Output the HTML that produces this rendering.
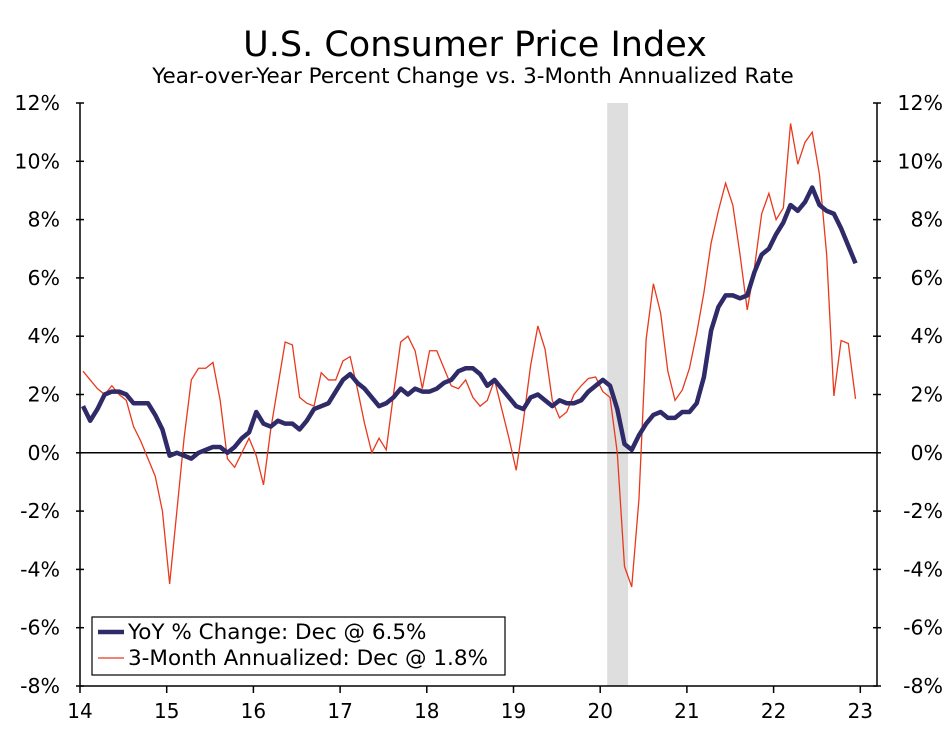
<!DOCTYPE html>
<html><head><meta charset="utf-8"><style>
body{margin:0;background:#fff}
svg text{font-family:"DejaVu Sans","Liberation Sans",sans-serif;fill:#000}
</style></head><body>
<svg id="chart" width="947" height="727" xmlns="http://www.w3.org/2000/svg">
<text x="475" y="56" font-size="35" text-anchor="middle">U.S. Consumer Price Index</text>
<text x="473" y="83" font-size="21.5" text-anchor="middle">Year-over-Year Percent Change vs. 3-Month Annualized Rate</text>
<g id="g"></g>
</svg>
<script>
const yearLabels=["14","15","16","17","18","19","20","21","22","23"];
const yTicks=[12,10,8,6,4,2,0,-2,-4,-6,-8];
const yoy=[1.6,1.1,1.5,2.0,2.1,2.1,2.0,1.7,1.7,1.7,1.3,0.8,
-0.1,0.0,-0.1,-0.2,0.0,0.1,0.2,0.2,0.0,0.2,0.5,0.7,
1.4,1.0,0.9,1.1,1.0,1.0,0.8,1.1,1.5,1.6,1.7,2.1,
2.5,2.7,2.4,2.2,1.9,1.6,1.7,1.9,2.2,2.0,2.2,2.1,
2.1,2.2,2.4,2.5,2.8,2.9,2.9,2.7,2.3,2.5,2.2,1.9,
1.6,1.5,1.9,2.0,1.8,1.6,1.8,1.7,1.7,1.8,2.1,2.3,
2.5,2.3,1.5,0.3,0.1,0.6,1.0,1.3,1.4,1.2,1.2,1.4,
1.4,1.7,2.6,4.2,5.0,5.4,5.4,5.3,5.4,6.2,6.8,7.0,
7.5,7.9,8.5,8.3,8.6,9.1,8.5,8.3,8.2,7.7,7.1,6.5];
const ann3m=[2.8,2.5,2.2,2.0,2.3,2.0,1.8,0.9,0.4,-0.2,-0.8,-2.0,
-4.5,-2.0,0.5,2.5,2.9,2.9,3.1,1.8,-0.2,-0.5,0.0,0.5,
-0.1,-1.1,0.8,2.3,3.8,3.7,1.9,1.7,1.6,2.75,2.5,2.5,
3.15,3.3,2.2,1.0,0.0,0.5,0.1,2.0,3.8,4.0,3.5,2.2,
3.5,3.5,2.9,2.3,2.2,2.5,1.9,1.6,1.8,2.5,1.5,0.5,
-0.6,1.1,3.0,4.35,3.55,1.8,1.2,1.4,2.0,2.3,2.55,2.6,
2.1,1.9,0.0,-3.9,-4.6,-1.6,3.9,5.8,4.8,2.8,1.8,2.15,
2.9,4.1,5.5,7.2,8.3,9.25,8.5,6.8,4.9,6.35,8.2,8.9,
8.0,8.4,11.3,9.9,10.65,11.0,9.55,6.8,1.95,3.85,3.75,1.85];
const recession=[72.6,75.5];
const L=80,R=877,T=103,B=686;
const y=v=>T+(12-v)/20*(B-T);
const xm=i=>83+i*7.22;
const xy=i=>80+i*86.7;
const g=document.getElementById('g');
const NS="http://www.w3.org/2000/svg";
function mk(tag,at,parent){const e=document.createElementNS(NS,tag);for(const k in at)e.setAttribute(k,at[k]);(parent||g).appendChild(e);return e;}
let r=mk('rect',{x:xm(recession[0]),y:T,width:xm(recession[1])-xm(recession[0]),height:B-T,fill:'#dedede'});


let z=mk('line',{x1:L,x2:R,y1:y(0),y2:y(0),stroke:'#000','stroke-width':1.5});


let ax=mk('path',{d:`M${L},${T}V${B}H${R}V${T}`,fill:'none',stroke:'#000','stroke-width':1.5});


yTicks.forEach(v=>{
  let t=mk('line',{x1:L-4,x2:L+4,y1:y(v),y2:y(v),stroke:'#000','stroke-width':1.5});
  
  
  let t2=mk('line',{x1:R-4,x2:R+4,y1:y(v),y2:y(v),stroke:'#000','stroke-width':1.5});
  
  
  let a=mk('text',{x:60,y:y(v)+7,'font-size':20.5,'text-anchor':'end'});a.textContent=v+'%';
  
  
  let b=mk('text',{x:943,y:y(v)+7,'font-size':20.5,'text-anchor':'end'});b.textContent=v+'%';
  
  
});
yearLabels.forEach((l,i)=>{
  let t=mk('line',{x1:xy(i),x2:xy(i),y1:B,y2:B+7,stroke:'#000','stroke-width':1.5});
  
  
  let a=mk('text',{x:xy(i),y:B+32,'font-size':20,'text-anchor':'middle'});a.textContent=l;
  
  
});
let p1=mk('polyline',{points:ann3m.map((v,i)=>xm(i)+','+y(v)).join(' '),fill:'none',stroke:'#e8391d','stroke-width':1.3});


let p2=mk('polyline',{points:yoy.map((v,i)=>xm(i)+','+y(v)).join(' '),fill:'none',stroke:'#2f2a68','stroke-width':4.5,'stroke-linejoin':'round'});


let lg=mk('g',{});


mk('rect',{x:92,y:617,width:413,height:58,fill:'#fff',stroke:'#000','stroke-width':1.2},lg);
let e1=mk('line',{x1:98,x2:124,y1:632,y2:632,stroke:'#2f2a68','stroke-width':4.5},lg);


let t1=mk('text',{x:128,y:639,'font-size':21.5},lg);t1.textContent='YoY % Change: Dec @ 6.5%';


let e2=mk('line',{x1:98,x2:124,y1:658,y2:658,stroke:'#e8391d','stroke-width':1.3},lg);


let t2=mk('text',{x:128,y:665,'font-size':21.5},lg);t2.textContent='3-Month Annualized: Dec @ 1.8%';


</script>
</body></html>
